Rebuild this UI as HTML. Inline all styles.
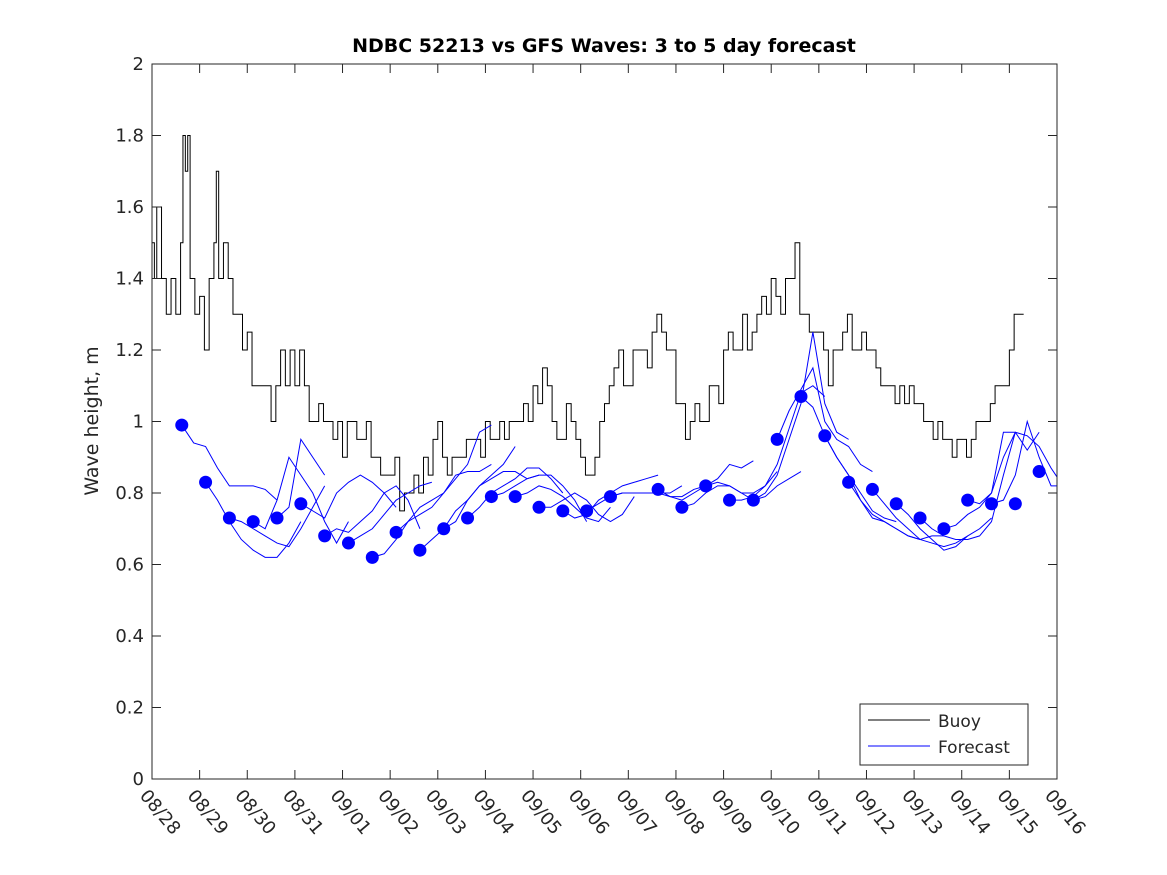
<!DOCTYPE html>
<html><head><meta charset="utf-8"><style>
body{margin:0;background:#fff}
svg{display:block;font-family:"DejaVu Sans","Liberation Sans",sans-serif}
</style></head><body>
<svg id="chart" width="1167" height="875">
<rect x="0" y="0" width="1167" height="875" fill="#fff"/>
<text x="604" y="52" text-anchor="middle" font-size="19" font-weight="bold">NDBC 52213 vs GFS Waves: 3 to 5 day forecast</text>
<text transform="translate(98,421) rotate(-90)" text-anchor="middle" font-size="19" fill="#262626">Wave height, m</text>
<defs><clipPath id="pc"><rect x="152" y="64" width="905" height="715"/></clipPath></defs>
<g id="grid"></g>
<g id="marks" clip-path="url(#pc)"></g>
<rect x="152" y="64" width="905" height="715" fill="none" stroke="#262626" stroke-width="1"/>
<g id="axes"></g>
<g>
<rect x="860" y="704" width="168" height="61" fill="#fff" stroke="#262626"/>
<line x1="868" y1="720" x2="930" y2="720" stroke="#000"/>
<text x="938" y="727" font-size="17" fill="#262626">Buoy</text>
<line x1="868" y1="746" x2="930" y2="746" stroke="#00f"/>
<text x="938" y="753" font-size="17" fill="#262626">Forecast</text>
</g>
</svg>
<script>
const xTickLabels=["08/28","08/29","08/30","08/31","09/01","09/02","09/03","09/04","09/05","09/06","09/07","09/08","09/09","09/10","09/11","09/12","09/13","09/14","09/15","09/16"];
const yTicks=[0,0.2,0.4,0.6,0.8,1,1.2,1.4,1.6,1.8,2];
const yTickLabels=["0","0.2","0.4","0.6","0.8","1","1.2","1.4","1.6","1.8","2"];
const buoyDays=[0,0.05,0.1,0.2,0.3,0.4,0.5,0.6,0.65,0.7,0.75,0.8,0.9,1.0,1.1,1.2,1.3,1.35,1.4,1.5,1.6,1.7,1.8,1.9,2.0,2.1,2.2,2.4,2.5,2.6,2.7,2.8,2.9,3.0,3.1,3.2,3.3,3.4,3.5,3.6,3.7,3.8,3.9,4.0,4.1,4.2,4.3,4.5,4.6,4.7,4.8,5.0,5.1,5.2,5.3,5.4,5.5,5.6,5.7,5.8,5.9,6.0,6.1,6.2,6.3,6.5,6.6,6.8,6.9,7.0,7.1,7.3,7.4,7.5,7.6,7.8,7.9,8.0,8.1,8.2,8.3,8.4,8.5,8.6,8.7,8.8,8.9,9.0,9.1,9.2,9.3,9.4,9.5,9.6,9.7,9.8,9.9,10.0,10.1,10.3,10.4,10.5,10.6,10.7,10.8,10.9,11.0,11.1,11.2,11.3,11.4,11.5,11.6,11.7,11.8,11.9,12.0,12.1,12.2,12.3,12.4,12.5,12.6,12.7,12.8,12.9,13.0,13.1,13.2,13.3,13.4,13.5,13.6,13.7,13.8,14.0,14.1,14.2,14.3,14.4,14.5,14.6,14.7,14.8,14.9,15.0,15.1,15.2,15.3,15.4,15.5,15.6,15.7,15.8,15.9,16.0,16.1,16.2,16.3,16.4,16.5,16.6,16.7,16.8,16.9,17.0,17.1,17.2,17.3,17.4,17.5,17.6,17.7,17.8,17.9,18.0,18.1,18.2,18.3];
const buoyVals=[1.5,1.4,1.6,1.4,1.3,1.4,1.3,1.5,1.8,1.7,1.8,1.4,1.3,1.35,1.2,1.4,1.5,1.7,1.4,1.5,1.4,1.3,1.3,1.2,1.25,1.1,1.1,1.1,1.0,1.1,1.2,1.1,1.2,1.1,1.2,1.1,1.0,1.0,1.05,1.0,1.0,0.95,1.0,0.9,1.0,1.0,0.95,1.0,0.9,0.9,0.85,0.85,0.9,0.75,0.8,0.8,0.85,0.8,0.9,0.85,0.95,1.0,0.9,0.85,0.9,0.9,0.95,0.95,0.9,1.0,0.95,1.0,0.95,1.0,1.0,1.05,1.0,1.1,1.05,1.15,1.1,1.0,0.95,0.95,1.05,1.0,0.95,0.9,0.85,0.85,0.9,1.0,1.05,1.1,1.15,1.2,1.1,1.1,1.2,1.2,1.15,1.25,1.3,1.25,1.2,1.2,1.05,1.05,0.95,1.0,1.05,1.0,1.0,1.1,1.1,1.05,1.2,1.25,1.2,1.2,1.3,1.2,1.25,1.3,1.35,1.3,1.4,1.35,1.3,1.4,1.4,1.5,1.3,1.3,1.25,1.25,1.2,1.1,1.2,1.2,1.25,1.3,1.2,1.2,1.25,1.2,1.2,1.15,1.1,1.1,1.1,1.05,1.1,1.05,1.1,1.05,1.05,1.0,1.0,0.95,1.0,0.95,0.95,0.9,0.95,0.95,0.9,0.95,1.0,1.0,1.0,1.05,1.1,1.1,1.1,1.2,1.3,1.3];
const dotDays=[0.625,1.125,1.625,2.125,2.625,3.125,3.625,4.125,4.625,5.125,5.625,6.125,6.625,7.125,7.625,8.125,8.625,9.125,9.625,10.625,11.125,11.625,12.125,12.625,13.125,13.625,14.125,14.625,15.125,15.625,16.125,16.625,17.125,17.625,18.125,18.625];
const dotVals=[0.99,0.83,0.73,0.72,0.73,0.77,0.68,0.66,0.62,0.69,0.64,0.70,0.73,0.79,0.79,0.76,0.75,0.75,0.79,0.81,0.76,0.82,0.78,0.78,0.95,1.07,0.96,0.83,0.81,0.77,0.73,0.70,0.78,0.77,0.77,0.86];
const fcStarts=[0.625,1.125,1.625,2.125,2.625,3.125,3.625,4.125,4.625,5.125,5.625,6.125,6.625,7.125,7.625,8.125,8.625,9.125,9.625,10.625,11.125,11.625,12.125,12.625,13.125,13.625,14.125,14.625,15.125,15.625,16.125,16.625,17.125,17.625];
const fcVals=[
[0.99,0.94,0.93,0.87,0.82,0.82,0.82,0.81,0.78],
[0.83,0.78,0.72,0.67,0.64,0.62,0.62,0.66,0.72],
[0.73,0.72,0.70,0.68,0.66,0.65,0.70,0.76,0.82],
[0.72,0.70,0.78,0.90,0.85,0.80,0.72,0.66,0.72],
[0.73,0.76,0.95,0.90,0.85],
[0.77,0.75,0.73,0.80,0.83,0.85,0.83,0.80,0.76],
[0.68,0.70,0.69,0.72,0.75,0.80,0.82,0.78,0.70],
[0.66,0.68,0.70,0.74,0.78,0.80,0.82,0.83],
[0.62,0.63,0.67,0.72,0.76,0.78,0.80,0.84,0.88,0.97,0.99],
[0.69,0.72,0.74,0.76,0.80,0.85,0.86,0.86,0.88],
[0.64,0.67,0.70,0.75,0.78,0.82,0.85,0.88,0.93],
[0.70,0.72,0.78,0.82,0.84,0.86,0.86,0.84,0.85],
[0.73,0.76,0.80,0.82,0.84,0.87,0.87,0.84,0.80],
[0.79,0.80,0.82,0.84,0.85,0.85,0.82,0.78,0.72],
[0.79,0.80,0.82,0.81,0.79,0.76,0.73,0.72,0.76],
[0.76,0.76,0.78,0.80,0.78,0.74,0.72,0.74,0.79],
[0.75,0.73,0.74,0.78,0.80,0.82,0.83,0.84,0.85],
[0.75,0.77,0.79,0.80,0.80,0.80,0.80,0.80,0.82],
[0.79,0.80,0.80,0.80,0.80,0.79,0.79,0.81,0.82],
[0.81,0.79,0.78,0.80,0.82,0.84,0.88,0.87,0.89],
[0.76,0.77,0.80,0.82,0.82,0.80,0.80,0.82,0.86],
[0.82,0.83,0.82,0.80,0.78,0.79,0.82,0.84,0.86],
[0.78,0.78,0.79,0.82,0.88,0.98,1.08,1.10,1.07],
[0.78,0.80,0.85,0.95,1.05,1.25,1.05,0.97,0.95],
[0.95,1.03,1.09,1.15,1.00,0.95,0.93,0.88,0.86],
[1.07,1.04,0.96,0.90,0.85,0.80,0.75,0.73,0.72],
[0.96,0.90,0.85,0.78,0.74,0.72,0.70,0.68,0.67],
[0.83,0.78,0.73,0.72,0.70,0.68,0.67,0.68,0.68],
[0.81,0.77,0.73,0.70,0.67,0.66,0.65,0.66,0.68],
[0.77,0.74,0.70,0.67,0.64,0.65,0.68,0.70,0.73],
[0.73,0.70,0.68,0.67,0.67,0.68,0.72,0.85,0.97],
[0.70,0.71,0.74,0.76,0.80,0.97,0.97,0.92,0.97],
[0.78,0.77,0.80,0.90,0.97,0.96,0.93,0.87,0.82],
[0.77,0.78,0.85,1.00,0.90,0.82,0.82]];
const fcStep=0.25;

const NS="http://www.w3.org/2000/svg";
const X0=152,X1=1057,Y0=779,Y1=64;
const xs=d=>X0+d*(X1-X0)/19;
const ys=v=>Y0-v*(Y0-Y1)/2;
function mk(t,a,p){const e=document.createElementNS(NS,t);for(const k in a)e.setAttribute(k,a[k]);p.appendChild(e);return e;}
const axes=document.getElementById('axes'),marks=document.getElementById('marks');
xTickLabels.forEach((l,i)=>{
  const x=xs(i);
  const t=mk('line',{x1:x,y1:Y0,x2:x,y2:Y0-9,stroke:'#262626'},axes);
  
  
  mk('line',{x1:x,y1:Y1,x2:x,y2:Y1+9,stroke:'#262626'},axes);
  const tx=mk('text',{transform:`translate(${x-13},${Y0+17}) rotate(50)`,'font-size':18,fill:'#262626'},axes);
  tx.textContent=l;
  
  
});
yTicks.forEach((v,i)=>{
  const y=ys(v);
  mk('line',{x1:X0,y1:y,x2:X0+9,y2:y,stroke:'#262626'},axes);
  mk('line',{x1:X1,y1:y,x2:X1-9,y2:y,stroke:'#262626'},axes);
  const tx=mk('text',{x:X0-8,y:y+6,'text-anchor':'end','font-size':18,fill:'#262626'},axes);
  tx.textContent=yTickLabels[i];
  
  
});
let d='';
buoyDays.forEach((dd,i)=>{
  const x=xs(dd),y=ys(buoyVals[i]);
  if(i===0)d+=`M${x},${y}`;else d+=`H${x}V${y}`;
});
const bp=mk('path',{d:d,fill:'none',stroke:'#000','stroke-width':1},marks);


fcVals.forEach((arr,j)=>{
  const pts=arr.map((v,k)=>`${xs(fcStarts[j]+k*fcStep)},${ys(v)}`).join(' ');
  const pl=mk('polyline',{points:pts,fill:'none',stroke:'#00f','stroke-width':1},marks);
  
  
});
dotDays.forEach((dd,i)=>{
  const c=mk('circle',{cx:xs(dd),cy:ys(dotVals[i]),r:6.5,fill:'#00f'},marks);
  
  
});
</script>
</body></html>
